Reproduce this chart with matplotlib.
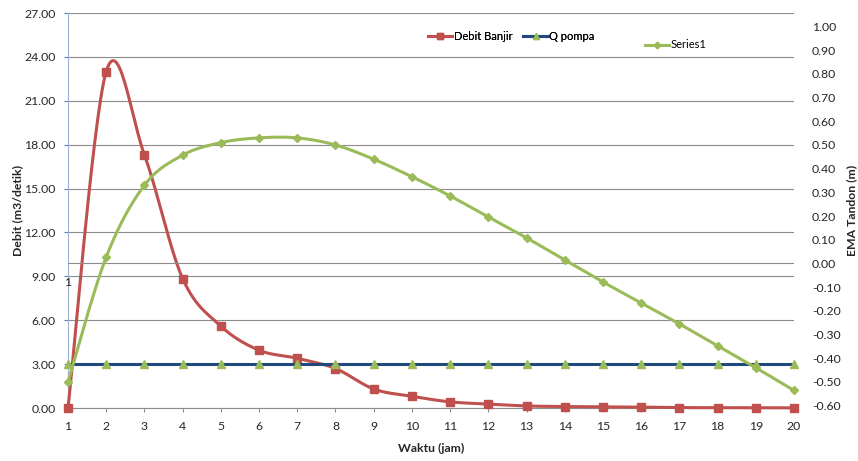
import numpy as np
import matplotlib
matplotlib.use("Agg")
import matplotlib.pyplot as plt
from matplotlib.lines import Line2D

plt.rcParams['font.family'] = ['Lato', 'DejaVu Sans']

waktu = list(range(1, 21))
debit_banjir = [0.0, 23.0, 17.3, 8.85, 5.6, 3.95, 3.4, 2.7, 1.3, 0.8,
                0.42, 0.27, 0.14, 0.1, 0.08, 0.06, 0.03, 0.02, 0.02, 0.01]
q_pompa = [3.0] * 20
series1 = [-0.50, 0.027, 0.33, 0.457, 0.51, 0.53, 0.53, 0.50, 0.44, 0.366,
           0.285, 0.196, 0.108, 0.015, -0.078, -0.167, -0.255, -0.348, -0.44, -0.536]

left_ticks = np.arange(0, 27.01, 3)
right_ticks = np.arange(-0.6, 1.001, 0.1)

RED = '#C0504D'
BLUE = '#1F497D'
GREEN = '#9BBB59'
GRID = '#8C8C8C'
TXT = '#262626'
FS = 8.8


# excel-like smoothed line (catmull-rom through bezier control points)
def smooth(x, y, n=30):
    pts = np.column_stack([x, y]).astype(float)
    P = np.vstack([pts[0], pts, pts[-1]])
    out = []
    t = np.linspace(0, 1, n)[:, None]
    for i in range(len(pts) - 1):
        p0, p1, p2, p3 = P[i], P[i + 1], P[i + 2], P[i + 3]
        c1 = p1 + (p2 - p0) / 6
        c2 = p2 - (p3 - p1) / 6
        seg = ((1 - t) ** 3) * p1 + 3 * ((1 - t) ** 2) * t * c1 + 3 * (1 - t) * t ** 2 * c2 + t ** 3 * p2
        out.append(seg if i == 0 else seg[1:])
    out = np.vstack(out)
    return out[:, 0], out[:, 1]


fig = plt.figure(figsize=(8.58, 4.61), dpi=100)
ax = fig.add_axes([68 / 858, 1 - 408 / 461, (794 - 68) / 858, (408 - 13) / 461])
ax2 = ax.twinx()

# left axis
ax.set_xlim(1, 20)
ax.set_ylim(0, 27)
ax.set_yticks(left_ticks)
ax.set_yticklabels([f"{v:.2f}" for v in left_ticks], fontsize=FS, color=TXT)
ax.set_xticks(waktu)
ax.set_xticklabels([str(v) for v in waktu], fontsize=FS, color=TXT)
ax.yaxis.grid(True, color=GRID, linewidth=0.8)
ax.set_axisbelow(True)
for s in ['top', 'right']:
    ax.spines[s].set_visible(False)
ax.spines['left'].set_color('#9DB3D0')
ax.spines['bottom'].set_color(GRID)
ax.tick_params(axis='y', length=3, color='#4F81BD', pad=6)
ax.tick_params(axis='x', length=3, color=GRID, pad=6)
ax.set_ylabel('Debit (m3/detik)', fontsize=FS, fontweight='bold', color=TXT, labelpad=1)
ax.set_xlabel('Waktu (jam)', fontsize=FS, fontweight='bold', color=TXT, labelpad=8)

# right axis
ax2.set_ylim(-0.61, 1.057)
ax2.set_yticks(right_ticks)
ax2.set_yticklabels([f"{v:.2f}" if abs(v) > 1e-9 else "0.00" for v in right_ticks],
                    fontsize=FS, color=TXT)
ax2.tick_params(axis='y', length=0, pad=13)
for s in ['top', 'right', 'left', 'bottom']:
    ax2.spines[s].set_visible(False)
ax2.axhline(0, color=GRID, linewidth=0.8, zorder=0)
ax2.set_ylabel('EMA Tandon (m)', fontsize=FS, fontweight='bold', color=TXT, labelpad=4)
ax2.yaxis.set_label_position('right')

# series
sx, sy = smooth(waktu, debit_banjir)
ax.plot(sx, sy, color=RED, linewidth=2.2, zorder=3, clip_on=False)
ax.plot(waktu, debit_banjir, linestyle='none', marker='s', markersize=5.5,
        color=RED, zorder=4, clip_on=False)
ax.plot(waktu, q_pompa, color=BLUE, linewidth=2.2, zorder=3, clip_on=False)
ax.plot(waktu, q_pompa, linestyle='none', marker='^', markersize=6,
        color=GREEN, zorder=4, clip_on=False)
gx, gy = smooth(waktu, series1)
ax2.plot(gx, gy, color=GREEN, linewidth=2.2, zorder=3, clip_on=False)
ax2.plot(waktu, series1, linestyle='none', marker='D', markersize=4.5,
         color=GREEN, zorder=4, clip_on=False)

fig.text(68 / 858, 1 - 283 / 461, '1', fontsize=FS, color=TXT, ha='center', va='center')

# legends
h1 = Line2D([], [], color=RED, linewidth=2.2, marker='s', markersize=5)
h2 = Line2D([], [], color=BLUE, linewidth=2.2, marker='^', markersize=5, markerfacecolor=GREEN,
            markeredgecolor=GREEN)
h3 = Line2D([], [], color=GREEN, linewidth=2.2, marker='D', markersize=3.5)
leg1 = fig.legend([h1, h2], ['Debit Banjir', 'Q pompa'], loc='center left',
                  bbox_to_anchor=(428 / 858, 1 - 36 / 461), ncol=2, frameon=False,
                  fontsize=8, handlelength=2.2, handletextpad=0.1, columnspacing=1.0,
                  borderaxespad=0, borderpad=0)
fig.legend([h3], ['Series1'], loc='center left', bbox_to_anchor=(645 / 858, 1 - 45 / 461),
           frameon=False, fontsize=8, handlelength=2.2, handletextpad=0.1,
           borderaxespad=0, borderpad=0)
fig.add_artist(leg1)

fig.savefig('out.png', dpi=100)
